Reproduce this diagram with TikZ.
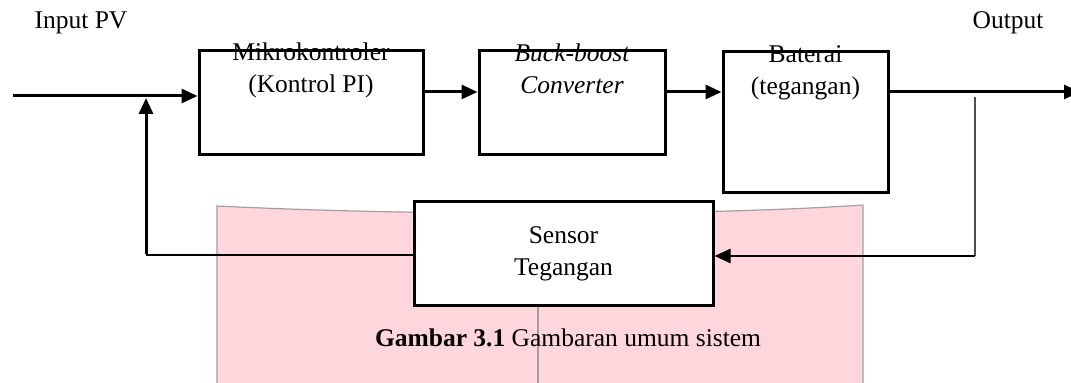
\documentclass[tikz,border=0pt]{standalone}
\usepackage{fontspec}
\setmainfont{Liberation Serif}
\definecolor{mypink}{RGB}{255,214,219}
\definecolor{mygrey}{RGB}{160,160,160}
\usetikzlibrary{arrows.meta,positioning,calc}

\begin{document}
\begin{tikzpicture}[
  x=0.5pt, y=-0.5pt,
  font=\fontsize{12.75}{16}\selectfont,
  myblock/.style 2 args={
    draw,
    line width=1.5pt,
    fill=white,
    inner sep=0pt,
    align=center,
    minimum width=#1,
    minimum height=#2
    },
  mytext/.style={
    anchor=base,
    align=center,
    inner sep=0pt
    },
  myarrow/.style={
    line width=1.5pt,
    -{Triangle[length=8pt,width=7pt]}
    },
  mythin/.style={
    line width=0.8pt
    }
]
\useasboundingbox (0,0) rectangle (1071,383);

% background page
\fill[mypink] (217,206) .. controls (420,216) and (700,216) .. (863,205)
  -- (863,383) -- (217,383) -- cycle;
\draw[mygrey, line width=0.6pt] (217,383) -- (217,206)
  .. controls (420,216) and (700,216) .. (863,205) -- (863,383);
\draw[mygrey, line width=0.6pt] (538,212) -- (538,383);

% blocks
\node[myblock={112pt}{52pt}] (mikro) at (311,103) {};
\node[myblock={93pt}{52pt}] (buck) at (572,103) {};
\node[myblock={82.5pt}{70.5pt}] (baterai) at (805.5,122.5) {};
\node[myblock={149.5pt}{52pt}] (sensor) at (563.5,254) {Sensor\\Tegangan};

\node[mytext] (mikrotext) at ([yshift=-21.5pt]mikro.north) {Mikrokontroler\\(Kontrol PI)};
\node[mytext] (bucktext) at ([yshift=-22pt]buck.north) {\itshape Buck-boost\\\itshape Converter};
\node[mytext] (bateraitext) at ([yshift=-22pt]baterai.north) {Baterai\\(tegangan)};

\node[mytext] (input) at (81,29) {Input PV};
\node[mytext] (output) at (1008,29) {Output};
\node[mytext] (caption) at (568,347) {\textbf{Gambar 3.1} Gambaran umum sistem};

% signal lines
\coordinate (masuk) at (13,96);
\coordinate (titik) at (146,96);
\coordinate (jalur) at (0,92);
\coordinate (keluar) at (1080,92);
\coordinate (cabang) at (975,97);
\coordinate (umpan) at (0,256);
\coordinate (kiri) at (146,255);

\draw[myarrow] (masuk) -- (masuk -| mikro.west);
\draw[myarrow] (mikro.east |- jalur) -- (buck.west |- jalur);
\draw[myarrow] (buck.east |- jalur) -- (baterai.west |- jalur);
\draw[myarrow] (baterai.east |- jalur) -- (keluar);
\draw[mythin, black!70] (cabang) -- (cabang |- umpan);
\draw[myarrow, line width=1.2pt] (cabang |- umpan) -- (sensor.east |- umpan);
\draw[mythin] (sensor.west |- kiri) -- (kiri);
\draw[myarrow] ([yshift=0.4pt]kiri) -- ([yshift=-1pt]titik);

\end{tikzpicture}
\end{document}
